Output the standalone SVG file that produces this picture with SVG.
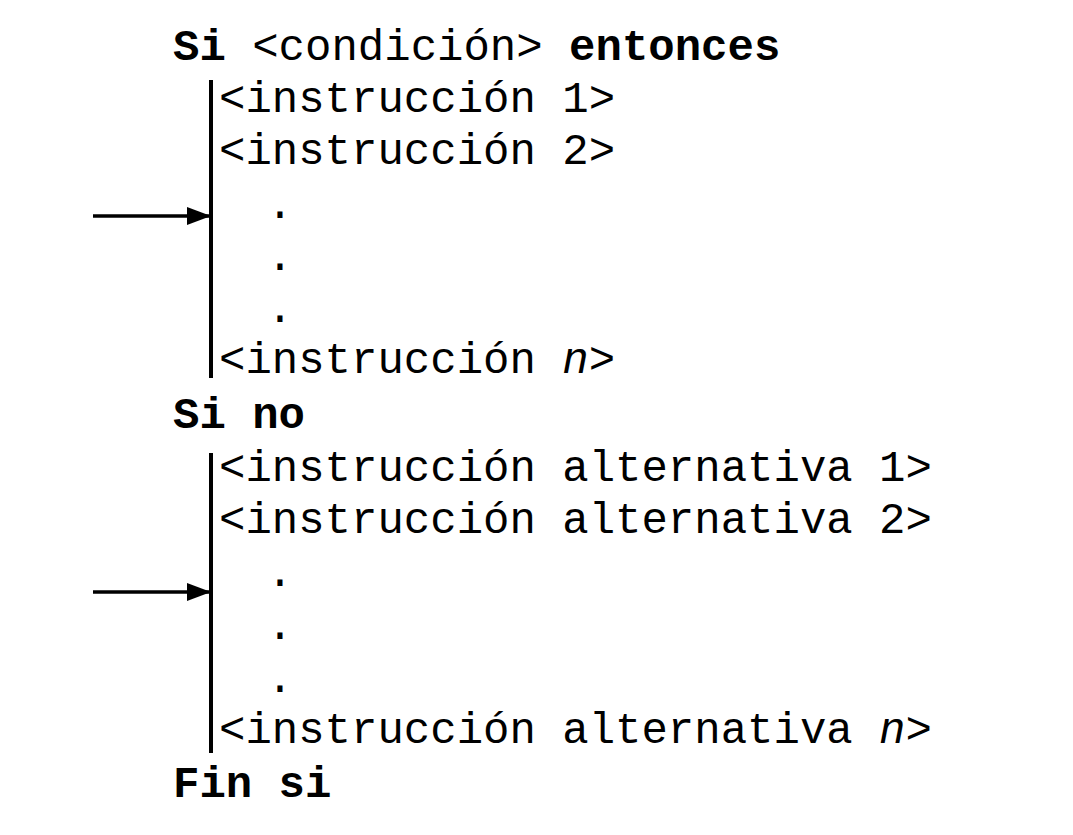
<svg xmlns="http://www.w3.org/2000/svg" width="1073" height="835" viewBox="0 0 1073 835">
<style>
text{font-family:"Liberation Mono","Courier New",monospace;font-size:44px;fill:#000}
.b{font-weight:bold}
.i{font-style:italic}
.bar{stroke:#000;stroke-width:4;fill:none}
.arr{stroke:#000;stroke-width:3.5;fill:none}
</style>
<defs>
<marker id="ah" markerUnits="userSpaceOnUse" markerWidth="26" markerHeight="20" refX="24" refY="9" orient="auto">
<path d="M0,0 L24,9 L0,18 Z" fill="#000"/>
</marker>
</defs>
<rect width="1073" height="835" fill="#fff"/>
<g id="header">
<text x="173" y="60"><tspan class="b">Si</tspan> &lt;condición&gt; <tspan class="b">entonces</tspan></text>
</g>
<g id="bloque-entonces">
<line class="bar" x1="211" y1="80" x2="211" y2="378"/>
<text x="219" y="112">&lt;instrucción 1&gt;</text>
<text x="219" y="164">&lt;instrucción 2&gt;</text>
<text x="280" y="218" text-anchor="middle">.</text>
<text x="280" y="270" text-anchor="middle">.</text>
<text x="280" y="322" text-anchor="middle">.</text>
<text x="219" y="373">&lt;instrucción <tspan class="i">n</tspan>&gt;</text>
</g>
<g id="sino">
<text x="173" y="428" class="b">Si no</text>
</g>
<g id="bloque-sino">
<line class="bar" x1="211" y1="453" x2="211" y2="753"/>
<text x="219" y="481">&lt;instrucción alternativa 1&gt;</text>
<text x="219" y="533">&lt;instrucción alternativa 2&gt;</text>
<text x="280" y="586" text-anchor="middle">.</text>
<text x="280" y="639" text-anchor="middle">.</text>
<text x="280" y="692" text-anchor="middle">.</text>
<text x="219" y="743">&lt;instrucción alternativa <tspan class="i">n</tspan>&gt;</text>
</g>
<g id="finsi">
<text x="173" y="797" class="b">Fin si</text>
</g>
<g id="connectors">
<line class="arr" x1="93" y1="216" x2="211" y2="216" marker-end="url(#ah)"/>
<line class="arr" x1="93" y1="592" x2="211" y2="592" marker-end="url(#ah)"/>
</g>
</svg>
